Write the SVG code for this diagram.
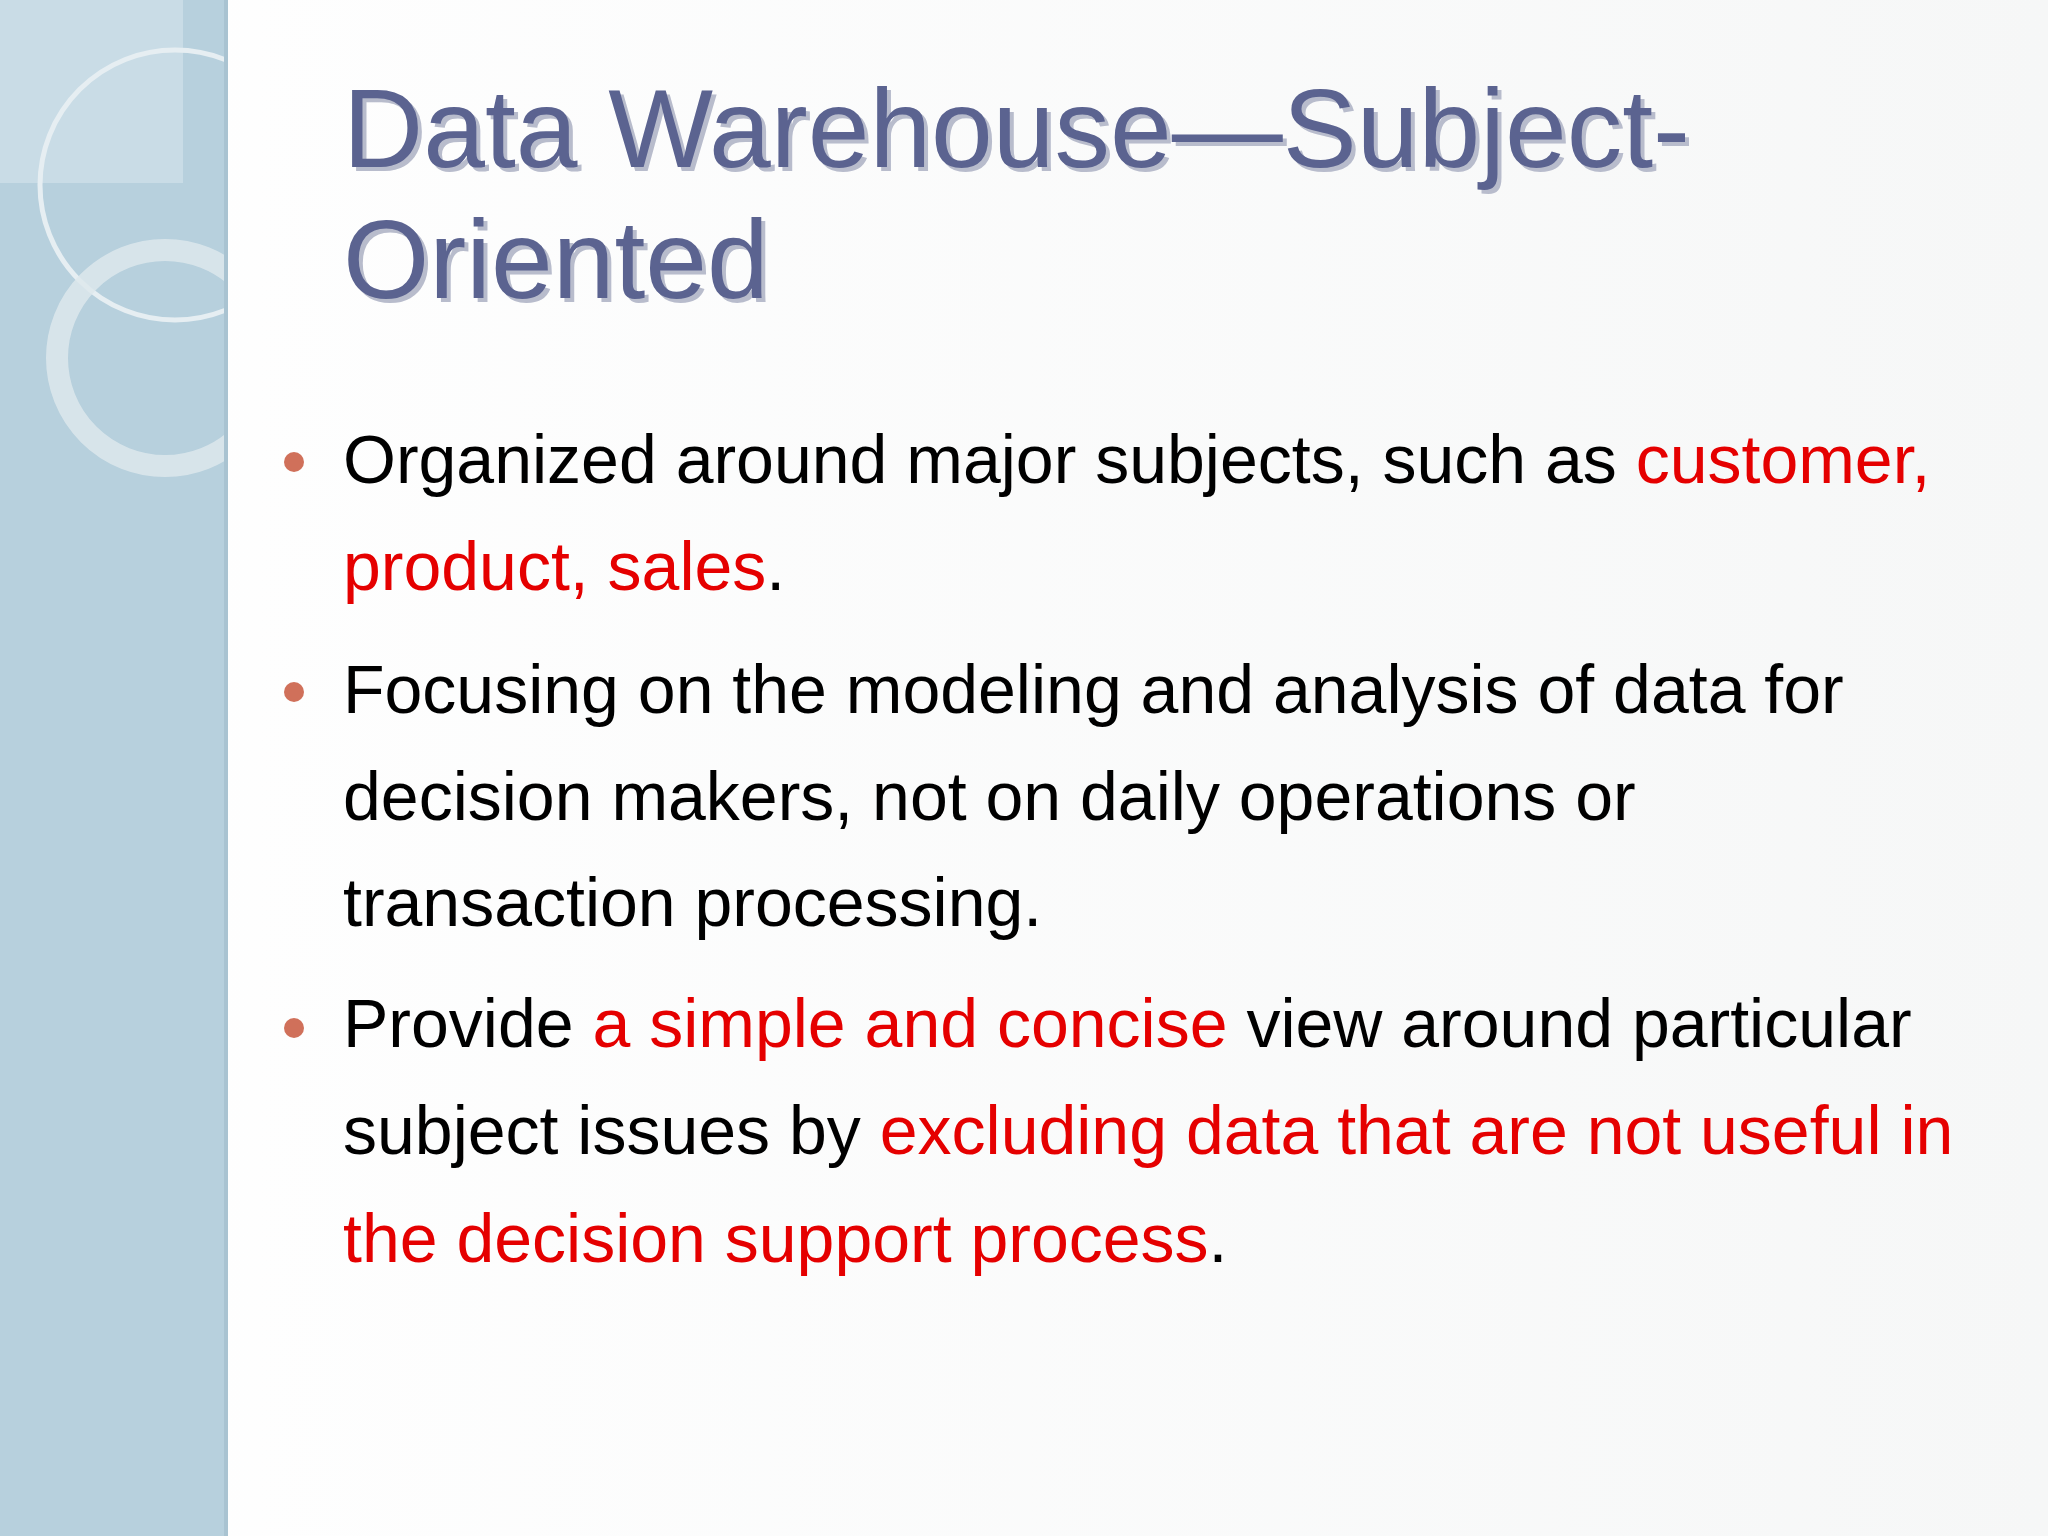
<svg xmlns="http://www.w3.org/2000/svg" width="2048" height="1536" viewBox="0 0 2048 1536">
<defs>
<style>
.t{font-family:"Liberation Sans",Arial,sans-serif;font-size:68px;fill:#000}
.r{fill:#e50000}
.h{font-family:"Liberation Sans",Arial,sans-serif;font-size:111px;fill:#5b6390}
.hs{font-family:"Liberation Sans",Arial,sans-serif;font-size:111px;fill:#b8bccc}
.b{fill:#d0705a}
</style>
<linearGradient id="bg" x1="0" y1="0" x2="1" y2="0"><stop offset="0" stop-color="#ffffff"/><stop offset="1" stop-color="#f6f7f7"/></linearGradient>
<clipPath id="pc"><rect x="0" y="0" width="226" height="1536"/></clipPath>
</defs>
<rect width="2048" height="1536" fill="url(#bg)"/>
<g id="panel">
<rect x="0" y="0" width="227" height="1536" fill="#b7d0dd"/>
<g clip-path="url(#pc)">
<rect x="0" y="0" width="183" height="183" fill="#c9dce6"/>
<circle cx="175" cy="185" r="135" fill="none" stroke="#e6eef2" stroke-width="5"/>
<circle cx="165" cy="358" r="108" fill="none" stroke="#dde7ec" stroke-width="22" opacity="0.85"/>
</g>
<rect x="224" y="0" width="4" height="1536" fill="#a9c3d1"/>
</g>
<g id="title">
<text class="hs" x="347" y="171">Data Warehouse—Subject-</text>
<text class="hs" x="347" y="302">Oriented</text>
<text class="h" x="343" y="167">Data Warehouse—Subject-</text>
<text class="h" x="343" y="298">Oriented</text>
</g>
<g id="bullets">
<circle class="b" cx="294" cy="462" r="10"/>
<circle class="b" cx="294" cy="692" r="10"/>
<circle class="b" cx="294" cy="1028" r="10"/>
<text class="t" x="343" y="483">Organized around major subjects, such as <tspan class="r">customer,</tspan></text>
<text class="t" x="343" y="590"><tspan class="r">product, sales</tspan>.</text>
<text class="t" x="343" y="713">Focusing on the modeling and analysis of data for</text>
<text class="t" x="343" y="820">decision makers, not on daily operations or</text>
<text class="t" x="343" y="926">transaction processing.</text>
<text class="t" x="343" y="1047">Provide <tspan class="r">a simple and concise</tspan> view around particular</text>
<text class="t" x="343" y="1154">subject issues by <tspan class="r">excluding data that are not useful in</tspan></text>
<text class="t" x="343" y="1262"><tspan class="r">the decision support process</tspan>.</text>
</g>
</svg>
